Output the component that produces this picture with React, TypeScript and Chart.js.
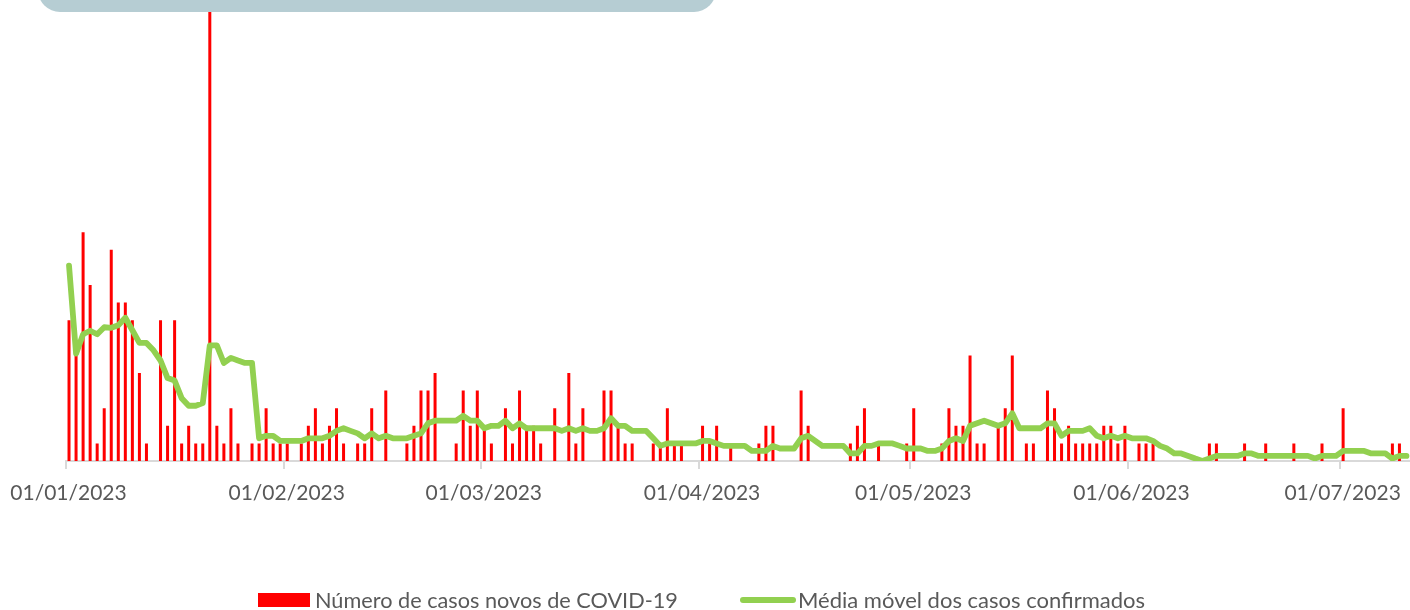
import React, { useEffect, useRef } from 'react';
import { Chart, registerables } from 'chart.js';

Chart.register(...registerables);

// Daily new COVID-19 cases, 01/01/2023 .. 10/07/2023 (one value per day)
const startDate = '2023-01-01';
const newCases = [
  8, 6, 13, 10, 1, 3, 12, 9, 9, 8,
  5, 1, 0, 8, 2, 8, 1, 2, 1, 1,
  31, 2, 1, 3, 1, 0, 1, 1, 3, 1,
  1, 1, 0, 1, 2, 3, 1, 2, 3, 1,
  0, 1, 1, 3, 0, 4, 0, 0, 1, 2,
  4, 4, 5, 0, 0, 1, 4, 2, 4, 2,
  1, 0, 3, 1, 4, 2, 2, 1, 0, 3,
  0, 5, 1, 3, 0, 0, 4, 4, 2, 1,
  1, 0, 0, 1, 1, 3, 1, 1, 0, 0,
  2, 1, 2, 0, 1, 0, 0, 0, 1, 2,
  2, 0, 0, 0, 4, 2, 0, 0, 0, 0,
  0, 1, 2, 3, 0, 1, 0, 0, 0, 1,
  3, 0, 0, 0, 1, 3, 2, 2, 6, 1,
  1, 0, 2, 3, 6, 0, 1, 1, 0, 4,
  3, 1, 2, 1, 1, 1, 1, 2, 2, 1,
  2, 0, 1, 1, 1, 0, 0, 0, 0, 0,
  0, 0, 1, 1, 0, 0, 0, 1, 0, 0,
  1, 0, 0, 0, 1, 0, 0, 0, 1, 0,
  0, 3, 0, 0, 0, 0, 0, 0, 1, 1,
  0,
];

// Moving average of confirmed cases
const movingAverage = [
  11.1, 6.1, 7.2, 7.4, 7.2, 7.6, 7.57, 7.71, 8.14, 7.43,
  6.71, 6.71, 6.29, 5.71, 4.71, 4.57, 3.57, 3.14, 3.14, 3.29,
  6.57, 6.57, 5.57, 5.86, 5.71, 5.57, 5.57, 1.29, 1.43, 1.43,
  1.14, 1.14, 1.14, 1.14, 1.29, 1.29, 1.29, 1.43, 1.71, 1.86,
  1.71, 1.57, 1.29, 1.57, 1.29, 1.43, 1.29, 1.29, 1.29, 1.43,
  1.57, 2.14, 2.29, 2.29, 2.29, 2.29, 2.57, 2.29, 2.29, 1.86,
  2.0, 2.0, 2.29, 1.86, 2.14, 1.86, 1.86, 1.86, 1.86, 1.86,
  1.71, 1.86, 1.71, 1.86, 1.71, 1.71, 1.86, 2.43, 2.0, 2.0,
  1.71, 1.71, 1.71, 1.29, 0.86, 1.0, 1.0, 1.0, 1.0, 1.0,
  1.14, 1.14, 1.0, 0.86, 0.86, 0.86, 0.86, 0.57, 0.57, 0.57,
  0.86, 0.71, 0.71, 0.71, 1.29, 1.43, 1.14, 0.86, 0.86, 0.86,
  0.86, 0.43, 0.43, 0.86, 0.86, 1.0, 1.0, 1.0, 0.86, 0.71,
  0.71, 0.71, 0.57, 0.57, 0.71, 1.14, 1.29, 1.14, 2.0, 2.14,
  2.29, 2.14, 2.0, 2.14, 2.71, 1.86, 1.86, 1.86, 1.86, 2.14,
  2.14, 1.43, 1.71, 1.71, 1.71, 1.86, 1.43, 1.29, 1.43, 1.29,
  1.43, 1.29, 1.29, 1.29, 1.14, 0.86, 0.71, 0.43, 0.43, 0.29,
  0.14, 0, 0.14, 0.29, 0.29, 0.29, 0.29, 0.43, 0.43, 0.29,
  0.29, 0.29, 0.29, 0.29, 0.29, 0.29, 0.29, 0.14, 0.29, 0.29,
  0.29, 0.57, 0.57, 0.57, 0.57, 0.43, 0.43, 0.43, 0.14, 0.29,
  0.29,
];

// Month-start ticks (day index from 01/01/2023) and their labels
const tickDays = [0, 31, 59, 90, 120, 151, 181];
const tickLabels = ['01/01/2023', '01/02/2023', '01/03/2023', '01/04/2023', '01/05/2023', '01/06/2023', '01/07/2023'];
const seriesNames = ['Número de casos novos de COVID-19', 'Média móvel dos casos confirmados'];
const yMax = 26;

const FONT = 'Lato, "Open Sans", sans-serif';
const TEXT_COLOR = '#595959';

function dayLabel(i: number) {
  const d = new Date(startDate + 'T00:00:00Z');
  d.setUTCDate(d.getUTCDate() + i);
  const dd = String(d.getUTCDate()).padStart(2, '0');
  const mm = String(d.getUTCMonth() + 1).padStart(2, '0');
  return `${dd}/${mm}/${d.getUTCFullYear()}`;
}

export default function App() {
  const canvasRef = useRef<HTMLCanvasElement | null>(null);

  useEffect(() => {
    const canvas = canvasRef.current;
    if (!canvas) return;
    const barPoints = newCases.map((v, i) => ({ x: i + 0.5, y: v }));
    const linePoints = movingAverage.map((v, i) => ({ x: i + 0.5, y: v }));
    const chart = new Chart(canvas, {
      type: 'bar',
      data: {
        datasets: [
          {
            type: 'bar',
            label: seriesNames[0],
            data: barPoints as any,
            backgroundColor: '#ff0000',
            borderWidth: 0,
            inflateAmount: 0,
            barThickness: 3,
            order: 2,
          },
          {
            type: 'line',
            label: seriesNames[1],
            data: linePoints as any,
            borderColor: '#92d050',
            borderWidth: 5.8,
            pointRadius: 0,
            tension: 0,
            borderJoinStyle: 'round',
            borderCapStyle: 'round',
            order: 1,
          },
        ],
      },
      options: {
        animation: false,
        responsive: false,
        maintainAspectRatio: false,
        layout: { padding: { left: 65.5, right: 0, top: 3.4, bottom: 0 } },
        plugins: {
          legend: { display: false },
          title: { display: false },
          tooltip: {
            callbacks: {
              title: (items: any[]) => (items.length ? dayLabel(Math.floor(items[0].parsed.x)) : ''),
            },
          },
        },
        scales: {
          x: {
            type: 'linear',
            offset: false,
            min: 0,
            max: newCases.length,
            afterBuildTicks: (scale: any) => {
              scale.ticks = tickDays.map((v) => ({ value: v }));
            },
            afterFit: (scale: any) => {
              scale.height = 149;
              scale.paddingLeft = 0;
              scale.paddingRight = 0;
            },
            ticks: {
              autoSkip: false,
              maxRotation: 0,
              minRotation: 0,
              padding: 12,
              labelOffset: 3,
              color: TEXT_COLOR,
              font: { family: FONT, size: 21 },
              callback: (_v: any, index: number) => tickLabels[index] ?? '',
            },
            grid: {
              offset: false,
              drawOnChartArea: false,
              drawTicks: true,
              tickLength: 8,
              color: '#d9d9d9',
              lineWidth: 2,
            },
            border: { display: true, color: '#d9d9d9', width: 2 },
          },
          y: {
            display: false,
            min: 0,
            max: yMax,
          },
        },
      },
    });
    return () => chart.destroy();
  }, []);

  return (
    <div style={{ position: 'absolute', left: 0, top: 0, width: 1410, height: 610, overflow: 'hidden', background: '#ffffff', fontFamily: FONT }}>
      <canvas ref={canvasRef} width={1410} height={610} style={{ position: 'absolute', left: 0, top: 0, width: 1410, height: 610, display: 'block' }} />
      <div style={{ position: 'absolute', left: 38, top: -40, width: 678, height: 52, borderRadius: 22, background: '#b6cdd3' }} />
      <div style={{ position: 'absolute', left: 258, top: 593, width: 52, height: 14, background: '#ff0000' }} />
      <div style={{ position: 'absolute', left: 315, top: 587, height: 26, lineHeight: '26px', fontSize: 21.7, color: TEXT_COLOR, whiteSpace: 'nowrap' }}>{seriesNames[0]}</div>
      <div style={{ position: 'absolute', left: 740, top: 597, width: 56, height: 6, borderRadius: 3, background: '#92d050' }} />
      <div style={{ position: 'absolute', left: 798, top: 587, height: 26, lineHeight: '26px', fontSize: 22, color: TEXT_COLOR, whiteSpace: 'nowrap' }}>{seriesNames[1]}</div>
    </div>
  );
}
